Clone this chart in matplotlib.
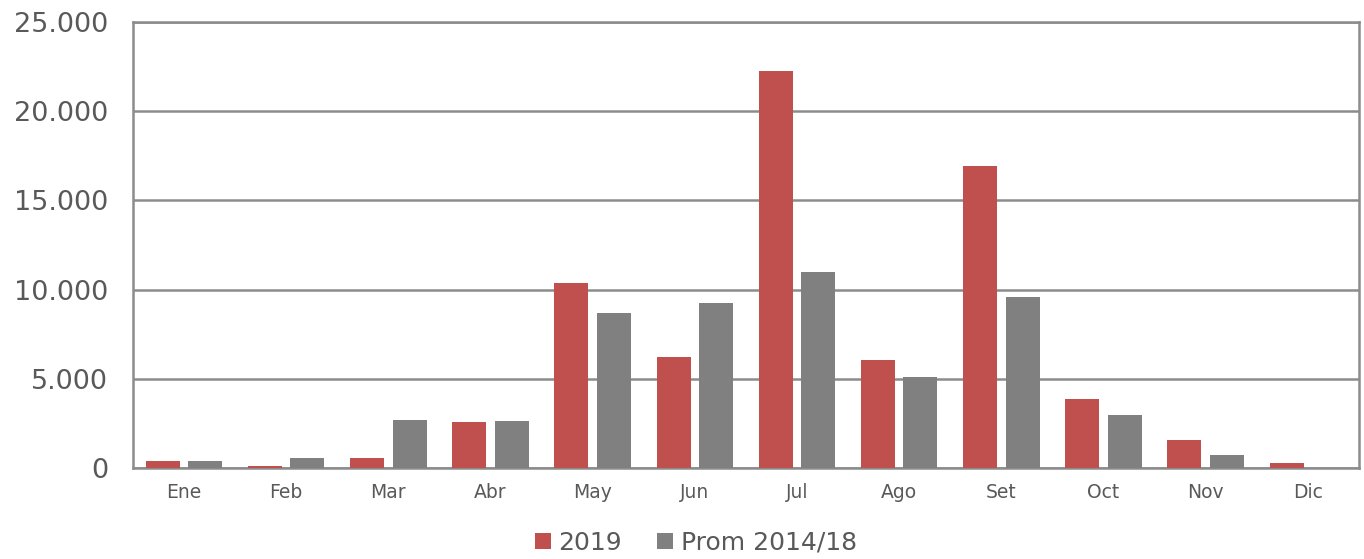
import matplotlib
matplotlib.use('Agg')
import matplotlib.pyplot as plt
import numpy as np
from matplotlib.ticker import FuncFormatter

# data
months = ['Ene', 'Feb', 'Mar', 'Abr', 'May', 'Jun', 'Jul', 'Ago', 'Set', 'Oct', 'Nov', 'Dic']
vals_2019 = [375, 110, 560, 2590, 10370, 6250, 22230, 6030, 16910, 3860, 1550, 260]
vals_prom = [410, 580, 2690, 2630, 8700, 9260, 10990, 5080, 9610, 2950, 730, 0]
series_names = ['2019', 'Prom 2014/18']

RED = '#C0504D'
GRAY = '#808080'
TEXT = '#595959'
GRID = '#8C8C8C'

plt.rcParams['font.family'] = ['DejaVu Sans']

fig = plt.figure(figsize=(13.64, 5.59), dpi=100)
ax = fig.add_axes([0.0975, 0.1628, 0.8988, 0.7978])

x = np.arange(len(months))
w = 0.333
off = 0.208
ax.bar(x - off, vals_2019, w, color=RED, label=series_names[0], zorder=3)
ax.bar(x + off, vals_prom, w, color=GRAY, label=series_names[1], zorder=3)

ax.set_xlim(-0.5, len(months) - 0.5)
ax.set_ylim(0, 25000)
ax.set_yticks(np.arange(0, 25001, 5000))
ax.yaxis.set_major_formatter(FuncFormatter(lambda v, p: f'{int(v):,}'.replace(',', '.')))
ax.set_xticks(x)
ax.set_xticklabels(months)

ax.grid(axis='y', color=GRID, linewidth=1.8, zorder=0)
for s in ax.spines.values():
    s.set_color(GRID)
    s.set_linewidth(1.8)

ax.tick_params(axis='y', length=0, pad=18, labelsize=19.5, labelcolor=TEXT)
ax.tick_params(axis='x', length=0, pad=11, labelsize=13.5, labelcolor=TEXT)

fig.legend(loc='center', bbox_to_anchor=(0.51, 0.029), ncol=2, frameon=False,
           fontsize=18, labelcolor=TEXT, handlelength=0.65, handleheight=0.65,
           handletextpad=0.3, columnspacing=1.4)

fig.savefig('out.png', dpi=100)
